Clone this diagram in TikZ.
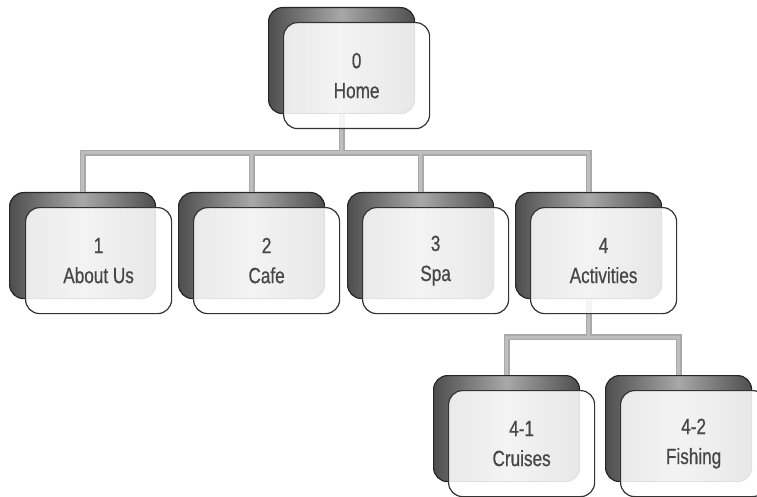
\documentclass[tikz,border=0pt]{standalone}
\usepackage{fontspec}
\setmainfont{Liberation Sans}[FakeStretch=0.78,FakeBold=0.6]
\definecolor{txt}{HTML}{474747}
\definecolor{backdark}{HTML}{4E4E4E}
\definecolor{backlight}{HTML}{A8A8A8}
\definecolor{wireout}{HTML}{A9A9A9}
\definecolor{wirein}{HTML}{BEBEBE}
\begin{document}
\begin{tikzpicture}[x=1pt,y=-1pt,
  boxsize/.style={minimum width=146pt, minimum height=106pt, rounded corners=14pt, anchor=north west, inner sep=0pt},
  backbox/.style={boxsize, draw=black!85, line width=1.2pt, left color=backdark, right color=backdark, middle color=backlight},
  frontbox/.style={boxsize, draw=black!80, line width=1.2pt, fill=white, fill opacity=0.87, text opacity=1, text=txt, align=center, font=\fontsize{22}{30}\selectfont},
  wireouter/.style={line width=6pt, draw=wireout},
  wireinner/.style={line width=3pt, draw=wirein}]
\useasboundingbox (0,0) rectangle (757,497);
\clip (0,0) rectangle (757,497);
% back boxes
\node[backbox] (hb) at (268,7) {};
\node[backbox] (b1) at (9,192) {};
\node[backbox] (b2) at (178,192) {};
\node[backbox] (b3) at (347,192) {};
\node[backbox] (b4) at (515,192) {};
\node[backbox] (b41) at (433,375) {};
\node[backbox] (b42) at (605,375) {};
% bus coordinates
\coordinate (bus1) at (0,153);
\coordinate (bus2) at (0,337);
% connectors (two passes)
\foreach \ws in {wireouter,wireinner}{
  \draw[\ws] (hb.south) -- (hb.south |- bus1);
  \draw[\ws] (b1.north) |- (b4.north |- bus1) -- (b4.north);
  \draw[\ws] (b2.north |- bus1) -- (b2.north);
  \draw[\ws] (b3.north |- bus1) -- (b3.north);
  \draw[\ws] (b4.south) -- (b4.south |- bus2);
  \draw[\ws] (b41.north) |- (b42.north |- bus2) -- (b42.north);
}
% front boxes
\node[frontbox] (home) at (283,22) {0\\Home};
\node[frontbox] (about) at (25,207) {1\\About Us};
\node[frontbox] (cafe) at (193,207) {2\\Cafe};
\node[frontbox] (spa) at (362,207) {3\\Spa};
\node[frontbox] (act) at (530,207) {4\\Activities};
\node[frontbox] (cruise) at (448,390) {4-1\\Cruises};
\node[frontbox] (fish) at (620,390) {4-2\\Fishing};
\end{tikzpicture}
\end{document}
